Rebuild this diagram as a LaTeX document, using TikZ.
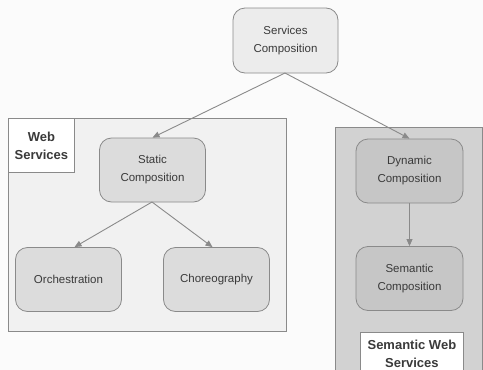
\documentclass[tikz,border=0pt]{standalone}
\usepackage{fontspec}
\setmainfont{Liberation Sans}
\usetikzlibrary{arrows.meta}
\definecolor{pagebg}{HTML}{FBFBFB}
\definecolor{webbg}{HTML}{F1F1F1}
\definecolor{semwebbg}{HTML}{D2D2D2}
\definecolor{topfill}{HTML}{ECECEC}
\definecolor{nodefill}{HTML}{DCDCDC}
\definecolor{darkfill}{HTML}{C6C6C6}
\definecolor{edgegray}{HTML}{8A8A8A}
\definecolor{txtgray}{HTML}{3A3A3A}
\begin{document}
\begin{tikzpicture}[x=1pt,y=-1pt,
  procbox/.style={draw=edgegray, line width=0.8pt, rounded corners=12pt, minimum width=106pt, minimum height=64pt, align=center, font=\fontsize{11.5}{18}\selectfont, text=txtgray, inner sep=2pt},
  regionbox/.style={draw=edgegray, line width=0.8pt},
  labelbox/.style={draw=edgegray, fill=white, line width=0.8pt, align=center, font=\bfseries\fontsize{13}{18}\selectfont, text=txtgray, inner sep=3pt},
  conn/.style={draw=edgegray, line width=0.9pt, -{Triangle[length=7pt,width=6pt]}}
]
\fill[pagebg] (0,0) rectangle (483,370);
\useasboundingbox (0,0) rectangle (483,370);
% regions
\filldraw[regionbox, fill=webbg] (8,118) rectangle (286,331);
\filldraw[regionbox, fill=semwebbg] (335,127) rectangle (482,372);
% labels
\node[labelbox, anchor=north west, minimum width=66pt, minimum height=54pt] (wslab) at (8,118) {Web\\Services};
\node[labelbox, anchor=north west, minimum width=103pt, minimum height=42pt, text depth=0pt] (swslab) at (360,332) {Semantic Web\\Services};
% nodes
\node[procbox, fill=topfill, minimum width=105pt, minimum height=65pt] (top) at (285.5,40.5) {Services\\Composition};
\node[procbox, fill=nodefill] (static) at (152.5,170) {Static\\Composition};
\node[procbox, fill=nodefill] (orch) at (68.5,279.5) {Orchestration};
\node[procbox, fill=nodefill] (chor) at (216.5,279.5) {Choreography};
\node[procbox, fill=darkfill, minimum width=107pt] (dyn) at (409.5,171) {Dynamic\\Composition};
\node[procbox, fill=darkfill, minimum width=107pt] (sem) at (409.5,278.5) {Semantic\\Composition};
% connectors
\coordinate (topb) at (285,73);
\coordinate (statb) at (152,202);
\draw[conn] (topb) -- (static.north);
\draw[conn] (topb) -- (dyn.north);
\draw[conn] (statb) -- ([xshift=6pt]orch.north);
\draw[conn] (statb) -- ([xshift=-4pt]chor.north);
\draw[conn] (dyn.south) -- (sem.north);
\end{tikzpicture}
\end{document}
